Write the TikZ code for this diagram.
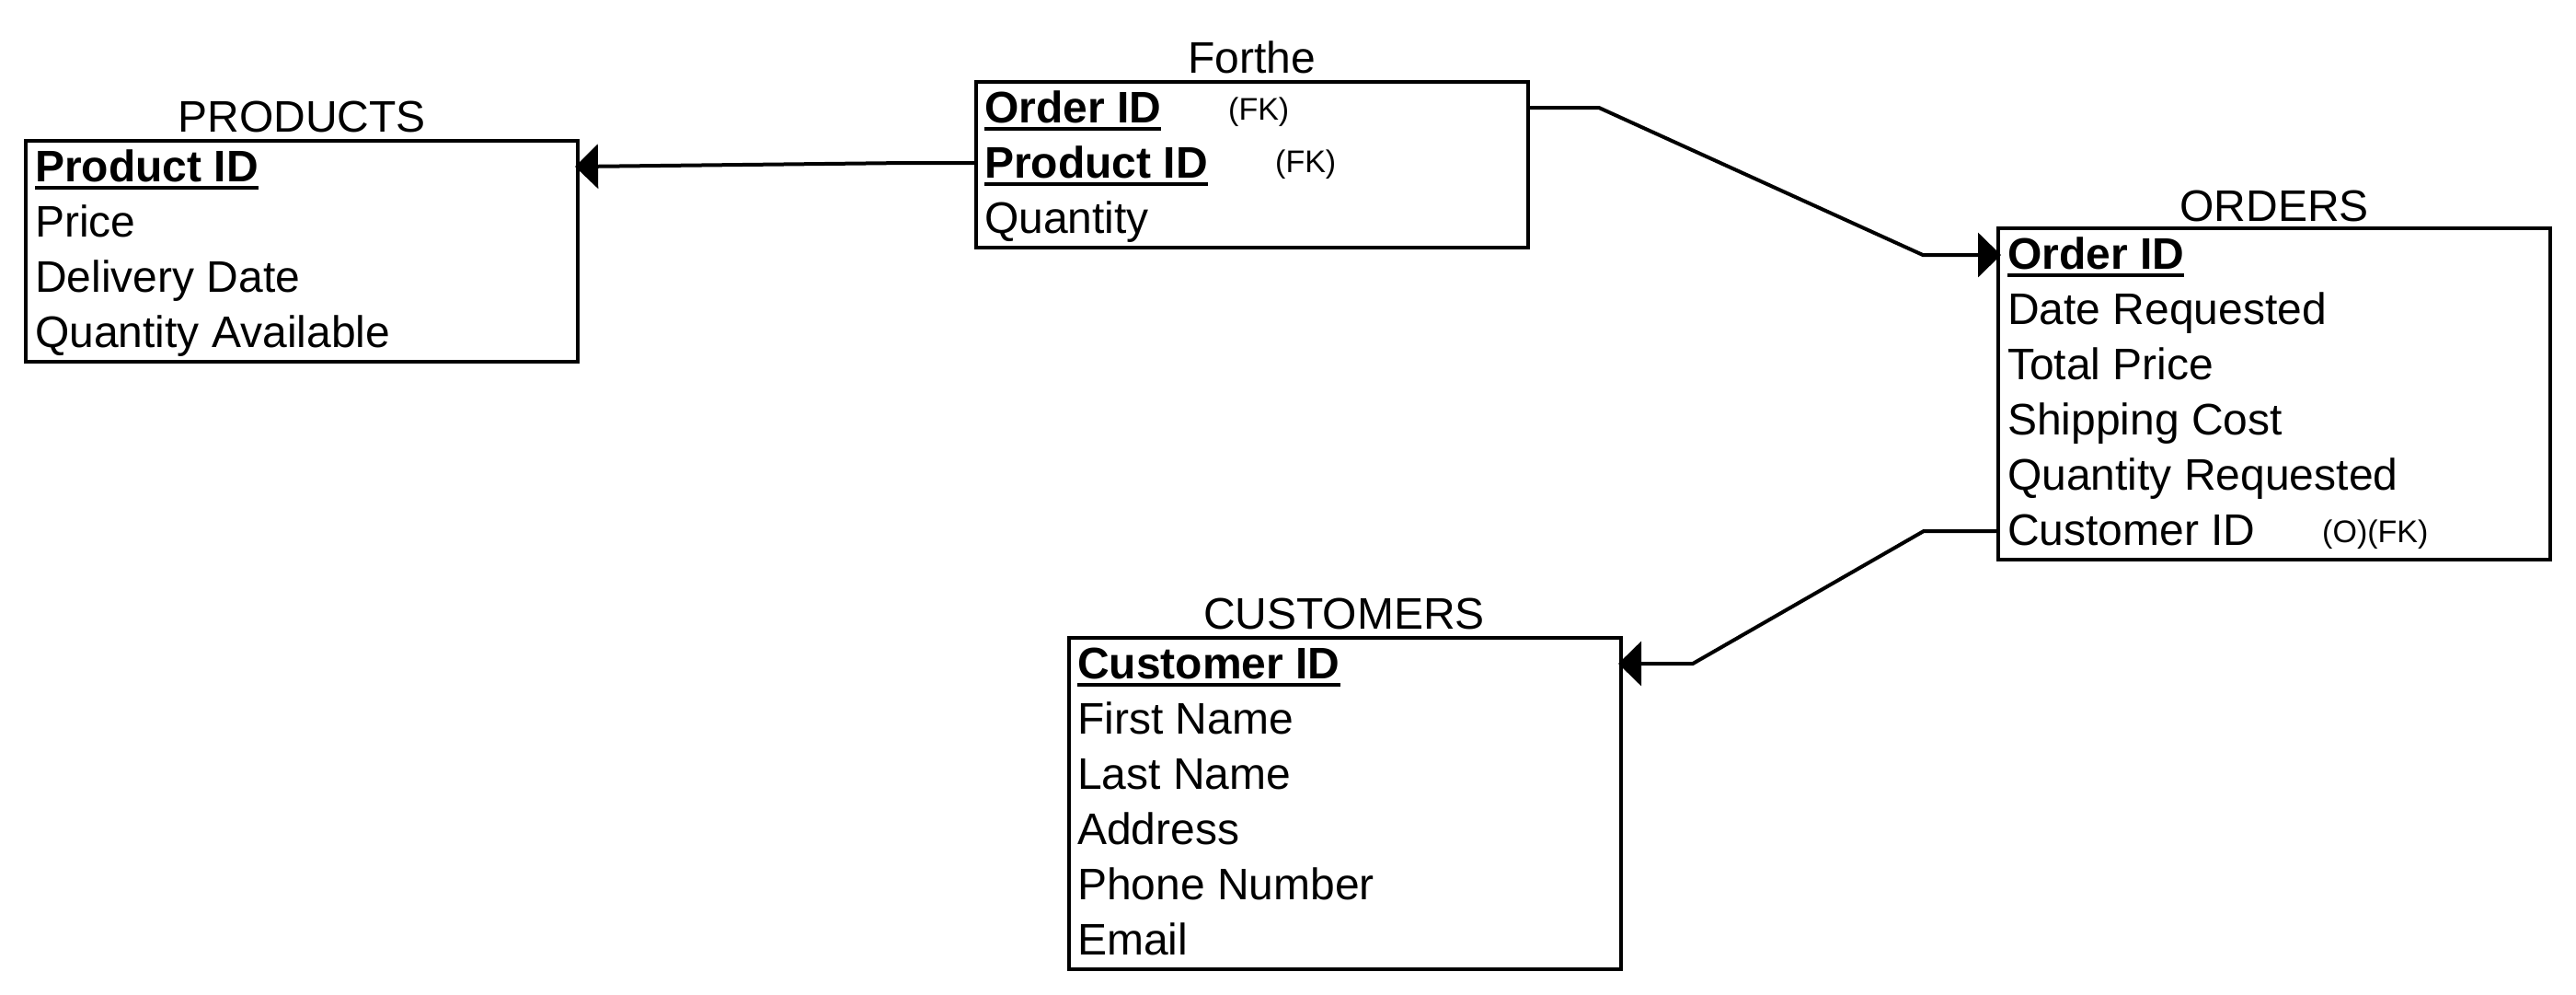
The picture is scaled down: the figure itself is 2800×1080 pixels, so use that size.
\documentclass[tikz,border=0pt]{standalone}
\usepackage{fontspec}
\setmainfont{Liberation Sans}
\usetikzlibrary{arrows.meta,calc}
\newcommand\pkey[1]{\setbox0\hbox{\textbf{#1}}\rlap{\rule[-9pt]{\wd0}{4pt}}\box0}
\tikzset{
  entity/.style={draw=black, line width=4pt, anchor=north west, minimum width=600pt, inner sep=0pt, outer sep=0pt},
  title/.style={anchor=base, inner sep=0pt, font=\fontsize{48}{56}\selectfont},
  row/.style={anchor=base west, inner sep=0pt, font=\fontsize{48}{56}\selectfont},
  fk/.style={anchor=base west, inner sep=0pt, font=\fontsize{34}{40}\selectfont},
  rel/.style={draw=black, line width=4pt, line join=miter, shorten >=-3pt, -{Triangle[length=25pt,width=48pt]}},
}
\begin{document}
\begin{tikzpicture}[x=1pt,y=-1pt]
\useasboundingbox (0,0) rectangle (2800,1080);
% PRODUCTS
\node[entity, minimum height=240pt] (prod) at (28,153) {};
\node[title] (prodT) at (328,143) {PRODUCTS};
\node[row] (p1) at (38,197) {\pkey{Product ID}};
\node[row] (p2) at (38,257) {Price};
\node[row] (p3) at (38,317) {Delivery Date};
\node[row] (p4) at (38,377) {Quantity Available};
% Forthe
\node[entity, minimum height=180pt] (forthe) at (1061,89) {};
\node[title] (fortheT) at (1361,79) {Forthe};
\node[row] (f1) at (1070,133) {\pkey{Order ID}};
\node[row] (f2) at (1070,193) {\pkey{Product ID}};
\node[row] (f3) at (1070,253) {Quantity};
\node[fk] (f1k) at (1335,130) {(FK)};
\node[fk] (f2k) at (1386,187) {(FK)};
% ORDERS
\node[entity, minimum height=360pt] (ord) at (2172,248) {};
\node[title] (ordT) at (2472,240) {ORDERS};
\node[row] (o1) at (2182,292) {\pkey{Order ID}};
\node[row] (o2) at (2182,352) {Date Requested};
\node[row] (o3) at (2182,412) {Total Price};
\node[row] (o4) at (2182,472) {Shipping Cost};
\node[row] (o5) at (2182,532) {Quantity Requested};
\node[row] (o6) at (2182,592) {Customer ID};
\node[fk] (o6k) at (2524,589) {(O)(FK)};
% CUSTOMERS
\node[entity, minimum height=360pt] (cust) at (1162,693) {};
\node[title] (custT) at (1461,683) {CUSTOMERS};
\node[row] (c1) at (1171,737) {\pkey{Customer ID}};
\node[row] (c2) at (1171,797) {First Name};
\node[row] (c3) at (1171,857) {Last Name};
\node[row] (c4) at (1171,917) {Address};
\node[row] (c5) at (1171,977) {Phone Number};
\node[row] (c6) at (1171,1037) {Email};
% connector points
\coordinate (aS) at (forthe.west |- 0,177);
\coordinate (aM) at (985,177);
\coordinate (aE) at (prod.east |- 0,181);
\coordinate (bS) at (forthe.east |- 0,117);
\coordinate (bM1) at (1738,117);
\coordinate (bM2) at (2090,277);
\coordinate (bE) at (ord.west |- 0,277);
\coordinate (cS) at (ord.west |- 0,577);
\coordinate (cM1) at (2091,577);
\coordinate (cM2) at (1840,721);
\coordinate (cE) at (cust.east |- 0,721);
\draw[rel] (aS) -- (aM) -- (aE);
\draw[rel] (bS) -- (bM1) -- (bM2) -- (bE);
\draw[rel] (cS) -- (cM1) -- (cM2) -- (cE);
\end{tikzpicture}
\end{document}
